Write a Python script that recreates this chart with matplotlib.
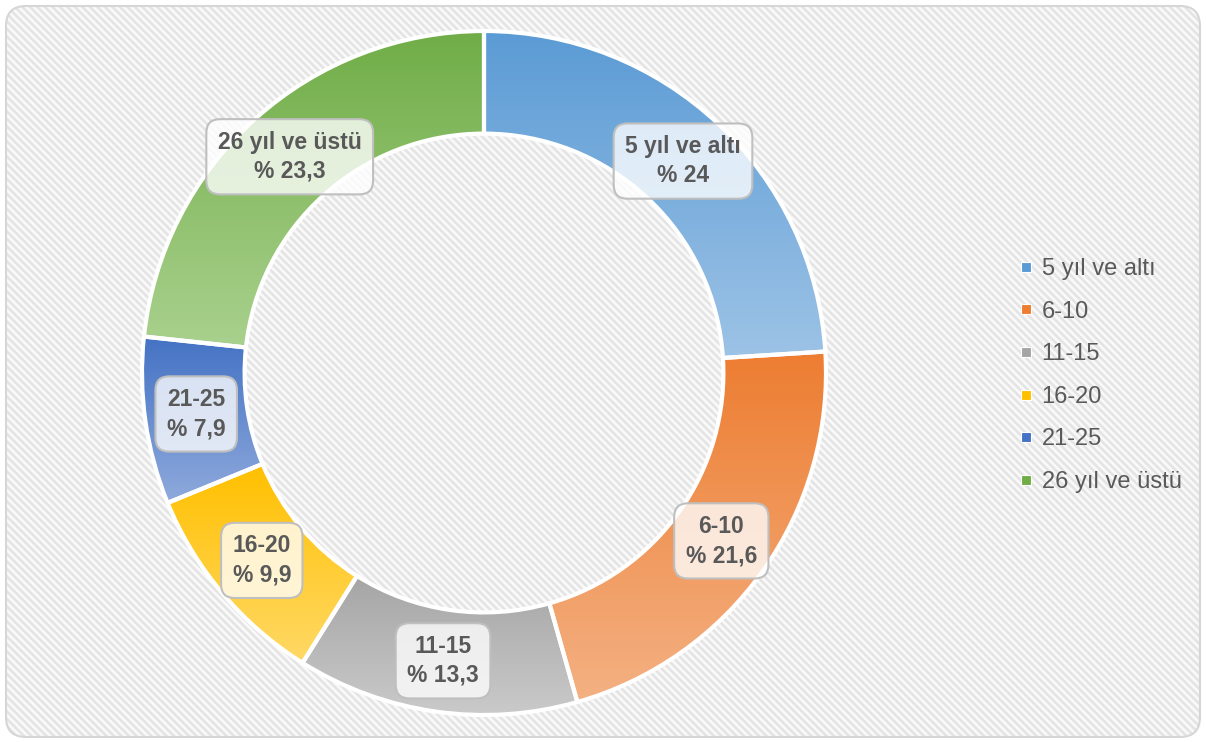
import numpy as np
import matplotlib
matplotlib.use('Agg')
import matplotlib.pyplot as plt
from matplotlib.patches import FancyBboxPatch
from matplotlib.collections import LineCollection
from matplotlib.lines import Line2D
from matplotlib.colors import to_rgb

# ---- data ----
CATEGORIES = ['5 yıl ve altı', '6-10', '11-15', '16-20', '21-25', '26 yıl ve üstü']
VALUES = [24, 21.6, 13.3, 9.9, 7.9, 23.3]
VALUE_LABELS = ['% 24', '% 21,6', '% 13,3', '% 9,9', '% 7,9', '% 23,3']

# ---- style ----
TOP_COLORS = ['#5b9bd5', '#ed7d31', '#a5a5a5', '#ffc000', '#4472c4', '#70ad47']
BOTTOM_COLORS = ['#9dc3e6', '#f4b183', '#cacaca', '#ffd966', '#8faadc', '#a9d18e']
TEXT_COLOR = '#595959'
RING_WIDTH = 0.3

plt.rcParams['font.family'] = ['Liberation Sans', 'DejaVu Sans']

W, H = 1206, 742
fig = plt.figure(figsize=(W / 100, H / 100), dpi=100)

# background: rounded panel with light diagonal stripes (pixel coords)
bg_ax = fig.add_axes([0, 0, 1, 1], zorder=-1)
bg_ax.set_xlim(0, W)
bg_ax.set_ylim(0, H)
bg_ax.axis('off')
panel = FancyBboxPatch((6, 5), 1194, 731, boxstyle='round,pad=0,rounding_size=20',
                       facecolor='#f9f9f9', edgecolor='none', zorder=0)
bg_ax.add_patch(panel)
period = 7.5
offs = np.arange(-H, W + period, period)
segs = [[(c, H), (c + H, 0)] for c in offs]
stripes = LineCollection(segs, colors='#e4e4e4', linewidths=1.9, zorder=1)
bg_ax.add_collection(stripes)
stripes.set_clip_path(panel)
bg_ax.add_patch(FancyBboxPatch((6, 5), 1194, 731, boxstyle='round,pad=0,rounding_size=20',
                               facecolor='none', edgecolor='#d6d6d6', linewidth=1.5, zorder=2))

# donut axes: centre (484, 373) px, outer radius ~342 px
cx, cy, R = 484, 373, 342
ax = fig.add_axes([(cx - R) / W, (H - cy - R) / H, 2 * R / W, 2 * R / H])
ax.set_facecolor('none')

wedges, _ = ax.pie(VALUES, startangle=90, counterclock=False, radius=1,
                   wedgeprops=dict(width=RING_WIDTH, facecolor='none',
                                   edgecolor='white', linewidth=3, zorder=3))

# vertical gradient inside each wedge (dark top -> light bottom)
for w, top, bot in zip(wedges, TOP_COLORS, BOTTOM_COLORS):
    t = np.radians(np.linspace(w.theta1, w.theta2, 200))
    xs = np.concatenate([np.cos(t), (1 - RING_WIDTH) * np.cos(t)])
    ys = np.concatenate([np.sin(t), (1 - RING_WIDTH) * np.sin(t)])
    f = np.linspace(0, 1, 256)[:, None]
    grad = (1 - f) * np.array(to_rgb(bot)) + f * np.array(to_rgb(top))
    img = ax.imshow(grad[:, None, :], extent=[xs.min(), xs.max(), ys.min(), ys.max()],
                    origin='lower', aspect='auto', zorder=2, interpolation='bilinear')
    img.set_clip_path(w)

# data labels in the middle of the ring
r_lab = 1 - RING_WIDTH / 2
for w, cat, lab in zip(wedges, CATEGORIES, VALUE_LABELS):
    ang = np.radians((w.theta1 + w.theta2) / 2)
    ax.text(r_lab * np.cos(ang), r_lab * np.sin(ang), f'{cat}\n{lab}',
            ha='center', va='center', fontsize=16.5, fontweight='bold',
            color=TEXT_COLOR, linespacing=1.35, zorder=5,
            bbox=dict(boxstyle='round,pad=0.5,rounding_size=0.6',
                      facecolor=(1, 1, 1, 0.78), edgecolor='#bfbfbf', linewidth=1.5))

ax.set_xlim(-1, 1)
ax.set_ylim(-1, 1)
ax.set_aspect('equal')
ax.axis('off')

# legend
handles = [Line2D([], [], marker='s', linestyle='none', markersize=6.5,
                  markerfacecolor=c, markeredgecolor='white', markeredgewidth=0.8)
           for c in TOP_COLORS]
leg = fig.legend(handles, CATEGORIES, loc='center left',
                 bbox_to_anchor=(998 / W, 1 - 375.5 / H), frameon=False,
                 fontsize=17, labelcolor=TEXT_COLOR, labelspacing=0.87,
                 handlelength=0.6, handletextpad=0.35, borderpad=0.4)

fig.savefig('out.png', dpi=100)
